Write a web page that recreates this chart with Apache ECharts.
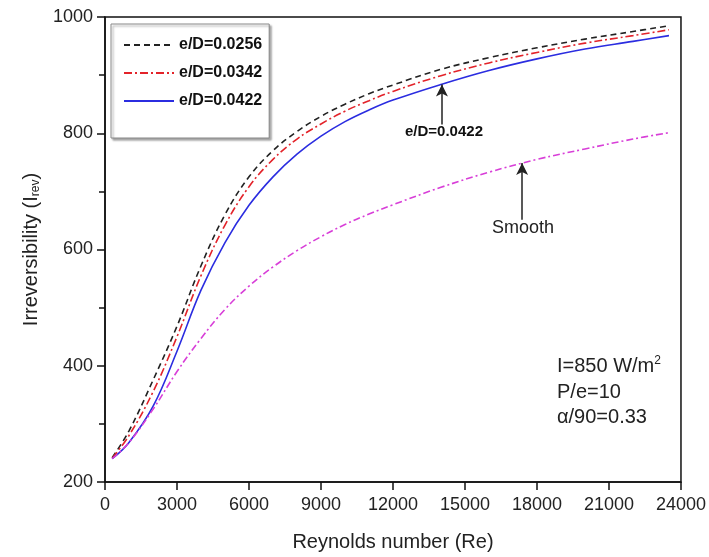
<!DOCTYPE html>
<html>
<head>
<meta charset="utf-8">
<script src="https://cdn.jsdelivr.net/npm/echarts@6/dist/echarts.min.js"></script>
<style>html,body{margin:0;padding:0;background:#fff}#c{width:709px;height:557px}</style>
</head>
<body>
<div id="c"></div>
<script>
var re = [300, 1000, 2000, 3000, 4000, 5000, 6000, 7000, 8000, 9000, 10000, 11000, 12000, 14000, 16000, 18000, 20000, 22000, 23500];
var ed0256 = [242, 288, 375, 468, 572, 660, 725, 770, 803, 829, 850, 868, 883, 910, 930, 947, 962, 975, 985];
var ed0342 = [241, 280, 355, 450, 555, 642, 708, 755, 790, 816, 838, 856, 872, 899, 921, 939, 955, 968, 978];
var ed0422 = [240, 268, 330, 425, 530, 612, 676, 725, 764, 795, 820, 840, 857, 884, 908, 928, 945, 958, 968];
var smooth = [240, 268, 325, 390, 447, 497, 537, 570, 598, 622, 643, 661, 677, 707, 733, 755, 773, 790, 801];
var seriesNames = ['e/D=0.0256', 'e/D=0.0342', 'e/D=0.0422', 'Smooth'];
var xTicks = {min: 0, max: 24000, interval: 3000};
var yTicks = {min: 200, max: 1000, interval: 200};

function pairs(xs, ys) { return xs.map(function (x, i) { return [x, ys[i]]; }); }

var font = 'Liberation Sans, Arial, sans-serif';
var chart = echarts.init(document.getElementById('c'), null, {renderer: 'canvas'});
chart.setOption({
  backgroundColor: '#fff',
  animation: false,
  grid: {left: 105, top: 17, width: 577, height: 466, show: true, borderColor: '#111', borderWidth: 1.5, backgroundColor: 'transparent'},
  legend: {
    data: seriesNames.slice(0, 3),
    orient: 'vertical',
    left: 111, top: 24,
    padding: [13, 7, 29, 12],
    itemWidth: 50, itemHeight: 14, itemGap: 12,
    borderColor: '#888', borderWidth: 1,
    backgroundColor: '#fff',
    shadowColor: 'rgba(0,0,0,0.35)', shadowBlur: 2, shadowOffsetX: 2, shadowOffsetY: 2,
    itemStyle: {opacity: 0},
    textStyle: {fontFamily: font, fontWeight: 'bold', fontSize: 16, color: '#111'}
  },
  xAxis: {
    type: 'value', min: xTicks.min, max: xTicks.max, interval: xTicks.interval,
    name: 'Reynolds number (Re)', nameLocation: 'middle', nameGap: 50,
    nameTextStyle: {fontFamily: font, fontSize: 20, color: '#222'},
    axisLine: {lineStyle: {color: '#111', width: 1.5}},
    axisTick: {length: 8, lineStyle: {color: '#111', width: 1.5}},
    axisLabel: {fontFamily: font, fontSize: 18, color: '#222', margin: 14, formatter: function (v) { return String(v); }},
    splitLine: {show: false}
  },
  yAxis: {
    type: 'value', min: yTicks.min, max: yTicks.max, interval: yTicks.interval,
    name: '{a|Irreversibility (I}{s|rev}{a|)}', nameLocation: 'middle', nameGap: 63, nameRotate: 90,
    nameTextStyle: {rich: {a: {fontFamily: font, fontSize: 20, color: '#222'}, s: {fontFamily: font, fontSize: 12, color: '#222', padding: [10, 0, 0, 0]}}},
    axisLine: {show: true, lineStyle: {color: '#111', width: 1.5}},
    axisTick: {length: 8, lineStyle: {color: '#111', width: 1.5}},
    minorTick: {show: true, splitNumber: 2, length: 6, lineStyle: {color: '#111', width: 1.5}},
    axisLabel: {fontFamily: font, fontSize: 18, color: '#222', margin: 12, formatter: function (v) { return String(v); }},
    splitLine: {show: false}
  },
  series: [
    {name: seriesNames[0], type: 'line', smooth: 0.4, symbol: 'none', data: pairs(re, ed0256),
     lineStyle: {color: '#222', width: 1.6, type: [6, 4]}, itemStyle: {color: '#222'}},
    {name: seriesNames[1], type: 'line', smooth: 0.4, symbol: 'none', data: pairs(re, ed0342),
     lineStyle: {color: '#e3232a', width: 1.6, type: [8, 3, 2, 3]}, itemStyle: {color: '#e3232a'}},
    {name: seriesNames[2], type: 'line', smooth: 0.4, symbol: 'none', data: pairs(re, ed0422),
     lineStyle: {color: '#2b2de0', width: 1.6, type: 'solid'}, itemStyle: {color: '#2b2de0'},
     markLine: {silent: true, symbol: ['none', 'arrow'], symbolSize: [9, 12], label: {show: false},
       lineStyle: {color: '#222', width: 1.5, type: 'solid'},
       data: [[{coord: [14040, 815]}, {coord: [14040, 884]}]]}},
    {name: seriesNames[3], type: 'line', smooth: 0.4, symbol: 'none', data: pairs(re, smooth),
     lineStyle: {color: '#d83fd8', width: 1.6, type: [7, 3, 2, 3]}, itemStyle: {color: '#d83fd8'},
     markLine: {silent: true, symbol: ['none', 'arrow'], symbolSize: [9, 12], label: {show: false},
       lineStyle: {color: '#222', width: 1.5, type: 'solid'},
       data: [[{coord: [17380, 651]}, {coord: [17380, 749]}]]}}
  ],
  graphic: [
    {type: 'text', left: 405, top: 124, style: {text: 'e/D=0.0422', fontFamily: font, fontWeight: 'bold', fontSize: 15, fill: '#111'}},
    {type: 'text', left: 492, top: 219, style: {text: 'Smooth', fontFamily: font, fontSize: 18, fill: '#222'}},
    {type: 'text', left: 557, top: 355, style: {text: '{a|I=850 W/m}{s|2}', rich: {a: {fontFamily: font, fontSize: 20, fill: '#222'}, s: {fontFamily: font, fontSize: 12, fill: '#222', padding: [0, 0, 11, 0]}}}},
    {type: 'text', left: 557, top: 382, style: {text: 'P/e=10', fontFamily: font, fontSize: 20, fill: '#222'}},
    {type: 'text', left: 557, top: 407, style: {text: 'α/90=0.33', fontFamily: font, fontSize: 20, fill: '#222'}}
  ]
});
</script>
</body>
</html>
